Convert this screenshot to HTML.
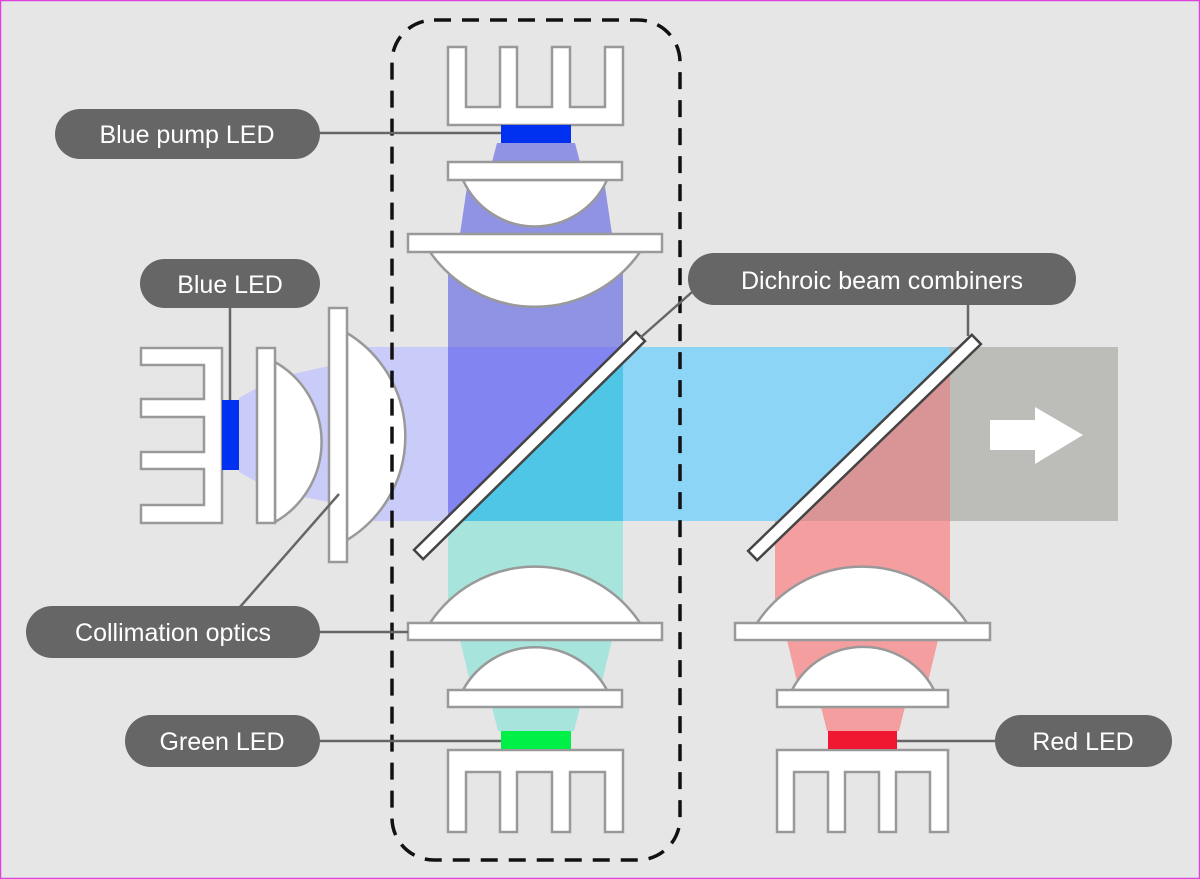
<!DOCTYPE html>
<html><head><meta charset="utf-8"><style>
html,body{margin:0;padding:0;}
body{width:1200px;height:879px;overflow:hidden;background:#e6e6e6;}
svg{display:block;}
text{font-family:"Liberation Sans",sans-serif;font-size:25px;fill:#fff;}
</style></head><body>
<svg width="1200" height="879" viewBox="0 0 1200 879" xmlns="http://www.w3.org/2000/svg">
<rect x="0.5" y="0.5" width="1199" height="878" fill="#e6e6e6" stroke="#e040e0" stroke-width="1.5"/>

<polygon points="239,398 275,378 347,362 347,505 275,492 239,472" fill="#c9cbf8"/>
<rect x="347" y="347" width="101" height="174" fill="#c9cbf8"/>
<polygon points="497,143 575,143 580,162 492,162" fill="#9093e4"/>
<polygon points="468,180 604,180 612,234 460,234" fill="#9093e4"/>
<rect x="448" y="252" width="175" height="96" fill="#9093e4"/>
<rect x="448" y="347" width="175" height="174" fill="#8284f2"/>
<polygon points="452,521 623,352 623,521" fill="#4fc6e6"/>
<rect x="623" y="347" width="327" height="174" fill="#8dd5f6"/>
<polygon points="778,521 950,356 950,521" fill="#d99496"/>
<rect x="950" y="347" width="168" height="174" fill="#bcbcb8"/>
<polygon points="990,420 1035,420 1035,407 1083,435 1035,464 1035,450 990,450" fill="#fff"/>
<rect x="448" y="521" width="175" height="110" fill="#a6e4dc"/>
<polygon points="460,640 612,640 600,690 472,690" fill="#a6e4dc"/>
<polygon points="492,707 580,707 574,731 498,731" fill="#a6e4dc"/>
<rect x="775" y="521" width="175" height="110" fill="#f49ea0"/>
<polygon points="787,640 938,640 926,690 799,690" fill="#f49ea0"/>
<polygon points="821,707 905,707 899,731 827,731" fill="#f49ea0"/>

<g fill="#fff" stroke="#999" stroke-width="2.5">
<path d="M448,47 H466 V107 H500 V47 H517 V107 H552 V47 H570 V107 H605 V47 H623 V125 H448 Z"/>
<path d="M463,180 A79,79 0 0 0 607,180 Z"/>
<rect x="448" y="162" width="174" height="18"/>
<path d="M430,252 A128,128 0 0 0 640,252 Z"/>
<rect x="408" y="234" width="254" height="18"/>
<path d="M141,348 H222 V523 H141 V505 H204 V469 H141 V452 H204 V417 H141 V399 H204 V365 H141 Z"/>
<path d="M275,362 A92,92 0 0 1 275,522 Z"/>
<rect x="257" y="348" width="18" height="175"/>
<path d="M347,333 A121,121 0 0 1 347,540 Z"/>
<rect x="329" y="308" width="18" height="254"/>
<path d="M430,623 A126,126 0 0 1 640,623 Z"/>
<rect x="408" y="623" width="254" height="17"/>
<path d="M463,690 A82,82 0 0 1 607,690 Z"/>
<rect x="448" y="690" width="174" height="17"/>
<path d="M448,750 H623 V832 H605 V772 H570 V832 H552 V772 H517 V832 H500 V772 H466 V832 H448 Z"/>
<path d="M757,623 A126,126 0 0 1 967,623 Z"/>
<rect x="735" y="623" width="255" height="17"/>
<path d="M792,690 A80,80 0 0 1 934,690 Z"/>
<rect x="777" y="690" width="171" height="17"/>
<path d="M777,750 H948 V832 H930 V772 H896 V832 H879 V772 H845 V832 H828 V772 H794 V832 H777 Z"/>
</g>

<rect x="501" y="125" width="70" height="18" fill="#0030f0"/>
<rect x="222" y="400" width="17" height="70" fill="#0030f0"/>
<rect x="501" y="731" width="70" height="18" fill="#00f048"/>
<rect x="828" y="731" width="69" height="18" fill="#f01830"/>

<g stroke="#444" stroke-width="2.5" fill="#fff">
<rect x="374" y="439" width="311" height="13" transform="rotate(-44.5 529.5 445.5)"/>
<rect x="709" y="441" width="311" height="13" transform="rotate(-44 864.5 447.5)"/>
</g>

<rect x="392" y="20" width="288" height="840" rx="42" fill="none" stroke="#111" stroke-width="3.5" stroke-dasharray="17,11"/>

<g stroke="#666" stroke-width="2.5" fill="none">
<line x1="318" y1="133" x2="501" y2="133"/>
<line x1="230" y1="306" x2="230" y2="400"/>
<line x1="700" y1="285" x2="640" y2="338"/>
<line x1="968" y1="305" x2="968" y2="336"/>
<line x1="318" y1="632" x2="408" y2="632"/>
<line x1="240" y1="607" x2="339" y2="494"/>
<line x1="318" y1="741" x2="501" y2="741"/>
<line x1="897" y1="741" x2="998" y2="741"/>
</g>

<g fill="#666">
<rect x="55" y="109" width="265" height="50" rx="25"/>
<rect x="140" y="259" width="180" height="49" rx="24.5"/>
<rect x="688" y="253" width="388" height="52" rx="26"/>
<rect x="26" y="606" width="294" height="52" rx="26"/>
<rect x="125" y="715" width="195" height="52" rx="26"/>
<rect x="995" y="715" width="177" height="52" rx="26"/>
</g>
<text x="187" y="143" text-anchor="middle">Blue pump LED</text>
<text x="230" y="293" text-anchor="middle">Blue LED</text>
<text x="882" y="289" text-anchor="middle">Dichroic beam combiners</text>
<text x="173" y="641" text-anchor="middle">Collimation optics</text>
<text x="222" y="750" text-anchor="middle">Green LED</text>
<text x="1083" y="750" text-anchor="middle">Red LED</text>
</svg>
</body></html>
